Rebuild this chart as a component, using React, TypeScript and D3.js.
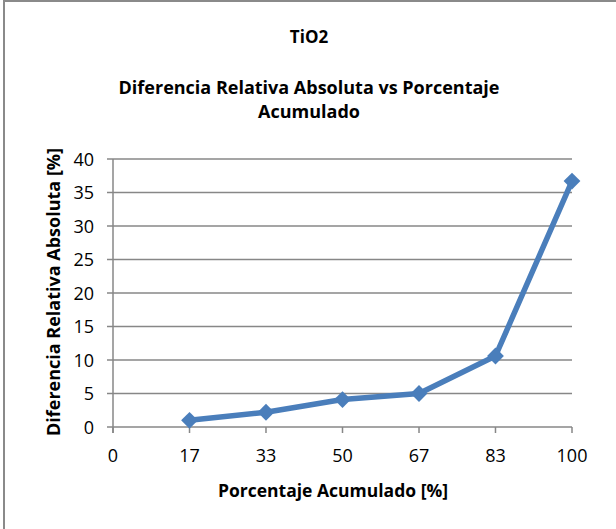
import React, { FC, useMemo } from 'react'
import * as d3 from 'd3'

// chart values
const percent = [16.67, 33.33, 50, 66.67, 83.33, 100]
const diffRel = [1.0, 2.2, 4.1, 5.0, 10.6, 36.7]
const xTicks = [0, 16.67, 33.33, 50, 66.67, 83.33, 100]
const xTickLabels = ['0', '17', '33', '50', '67', '83', '100']
const yTicks = [0, 5, 10, 15, 20, 25, 30, 35, 40]

const W = 616
const H = 529
const FONT = '"Open Sans", sans-serif'
const BLUE = '#4a7ebb'
const GRID = '#878787'

const App: FC = () => {
	const margin = { left: 113, right: 44, top: 159, bottom: 102 }

	const xScale = useMemo(() => {
		return d3.scaleLinear().domain([0, 100]).range([margin.left, W - margin.right])
	}, [])

	const yScale = useMemo(() => {
		return d3.scaleLinear().domain([0, 40]).range([H - margin.bottom, margin.top])
	}, [])

	const line = d3
		.line<number>()
		.x((_, i) => xScale(percent[i]))
		.y(d => yScale(d))

	const diamond = d3.symbol().type(d3.symbolDiamond2).size(180)()

	const x0 = xScale(0)
	const x1 = xScale(100)
	const y0 = yScale(0)

	return (
		<svg
			width={W}
			height={H}
			style={{ position: 'absolute', left: 0, top: 0, background: '#fff' }}
		>
			{/* outer frame */}
			<rect x={4} y={1} width={W + 10} height={H + 10} fill="#fff" stroke="#8a8a8a" strokeWidth={2} />

			{/* titles */}
			<text x={309} y={43} textAnchor="middle" fontFamily={FONT} fontWeight="bold" fontSize={17}>
				TiO2
			</text>
			<text x={309} y={94} textAnchor="middle" fontFamily={FONT} fontWeight="bold" fontSize={18}>
				Diferencia Relativa Absoluta vs Porcentaje
			</text>
			<text x={309} y={118} textAnchor="middle" fontFamily={FONT} fontWeight="bold" fontSize={18}>
				Acumulado
			</text>

			{/* grid */}
			<g>
				{yTicks.map(t => (
					<line key={t} x1={x0 - 6} x2={x1} y1={yScale(t)} y2={yScale(t)} stroke={GRID} strokeWidth={1.5} />
				))}
			</g>

			{/* y axis */}
			<line x1={x0} x2={x0} y1={yScale(40)} y2={y0 + 6} stroke={GRID} strokeWidth={1.5} />
			<g>
				{yTicks.map(t => (
					<text
						key={t}
						x={x0 - 19}
						y={yScale(t) + 6.5}
						textAnchor="end"
						fontFamily={FONT}
						fontSize={18}
					>
						{t}
					</text>
				))}
			</g>

			{/* x axis ticks */}
			<g>
				{xTicks.map((t, i) => (
					<g key={i}>
						<line x1={xScale(t)} x2={xScale(t)} y1={y0} y2={y0 + 6} stroke={GRID} strokeWidth={1.5} />
						<text x={xScale(t)} y={462} textAnchor="middle" fontFamily={FONT} fontSize={18}>
							{xTickLabels[i]}
						</text>
					</g>
				))}
			</g>

			{/* series */}
			<path d={line(diffRel) || ''} fill="none" stroke={BLUE} strokeWidth={5.5} strokeLinejoin="round" />
			<g>
				{diffRel.map((d, i) => (
					<path key={i} d={diamond || ''} transform={`translate(${xScale(percent[i])},${yScale(d)})`} fill={BLUE} />
				))}
			</g>

			{/* axis titles */}
			<text x={333} y={497} textAnchor="middle" fontFamily={FONT} fontWeight="bold" fontSize={17.5}>
				Porcentaje Acumulado [%]
			</text>
			<text
				transform={`translate(60, 292) rotate(-90)`}
				textAnchor="middle"
				fontFamily={FONT}
				fontWeight="bold"
				fontSize={18}
			>
				Diferencia Relativa Absoluta [%]
			</text>
		</svg>
	)
}

export default App
